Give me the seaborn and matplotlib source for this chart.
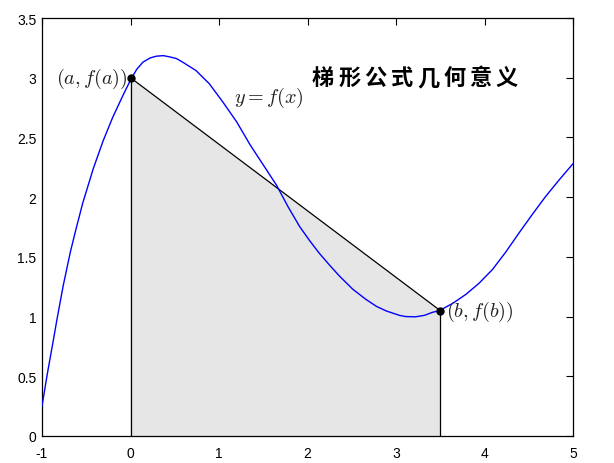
import matplotlib
matplotlib.use("Agg")
import matplotlib.pyplot as plt
import seaborn as sns
import pandas as pd

# ---- data ----
curve_x = [-1.0, -0.94, -0.87, -0.83, -0.76, -0.68, -0.62, -0.54, -0.42, -0.31,
           -0.20, -0.08, 0.0, 0.07, 0.14, 0.22, 0.29, 0.37, 0.44, 0.52, 0.59, 0.74, 0.89, 1.04,
           1.20, 1.35, 1.50, 1.65, 1.78, 1.91, 2.02, 2.13, 2.25, 2.36, 2.51, 2.66, 2.78, 2.89, 3.04,
           3.11, 3.22, 3.32, 3.41, 3.49, 3.64, 3.79, 3.94, 4.09, 4.24, 4.39, 4.54, 4.69, 4.85, 5.0]
curve_y = [0.25, 0.52, 0.81, 0.98, 1.26, 1.54, 1.72, 1.95, 2.24, 2.47,
           2.67, 2.86, 2.98, 3.07, 3.13, 3.165, 3.18, 3.185, 3.175, 3.16, 3.13, 3.06, 2.95, 2.80,
           2.63, 2.44, 2.27, 2.10, 1.92, 1.755, 1.64, 1.533, 1.43, 1.34, 1.23, 1.144, 1.085, 1.047, 1.01,
           1.00, 0.998, 1.01, 1.035, 1.05, 1.11, 1.186, 1.28, 1.394, 1.54, 1.70, 1.855, 2.005, 2.15, 2.28]
a_pt = [0.0, 3.0]
b_pt = [3.5, 1.05]
x_ticks = [-1, 0, 1, 2, 3, 4, 5]
y_ticks = [0, 0.5, 1, 1.5, 2, 2.5, 3, 3.5]
y_ticklabels = ["0", "0.5", "1", "1.5", "2", "2.5", "3", "3.5"]
title_text = "梯形公式几何意义"
label_a = r"$(a,f(a))$"
label_b = r"$(b,f(b))$"
label_f = r"$y=f(x)$"

sns.set_style("white")
plt.rcParams['font.family'] = ['Liberation Sans', 'DejaVu Sans']
plt.rcParams['mathtext.fontset'] = 'cm'

fig = plt.figure(figsize=(6.14, 4.64), dpi=100)
ax = fig.add_axes([42/614, 1-437/464, (573-42)/614, (437-19)/464])

df = pd.DataFrame({"x": curve_x, "y": curve_y})

# trapezoid fill
ax.fill([a_pt[0], a_pt[0], b_pt[0], b_pt[0]], [0, a_pt[1], b_pt[1], 0],
        color=(0.9, 0.9, 0.9), zorder=1, linewidth=0)
ax.plot([a_pt[0], b_pt[0]], [a_pt[1], b_pt[1]], color='black', lw=0.9, zorder=2)
ax.plot([a_pt[0], a_pt[0]], [0, a_pt[1]], color='black', lw=0.9, zorder=2)
ax.plot([b_pt[0], b_pt[0]], [0, b_pt[1]], color='black', lw=0.9, zorder=2)

sns.lineplot(data=df, x="x", y="y", ax=ax, color=(0, 0, 1), lw=1.0,
             sort=False, estimator=None, zorder=3)

ax.plot([a_pt[0], b_pt[0]], [a_pt[1], b_pt[1]], linestyle='none', marker='o',
        color='black', markersize=5, zorder=4)

ax.text(a_pt[0] - 0.03, a_pt[1], label_a, ha='right', va='center', fontsize=14.5, color='#222222')
ax.text(b_pt[0] + 0.07, b_pt[1], label_b, ha='left', va='center', fontsize=14.5, color='#222222')
ax.text(1.17, 2.84, label_f, ha='left', va='center', fontsize=14.5, color='#222222')

# title characters spaced like the reference
char_step = 0.297
for i, ch in enumerate(title_text):
    ax.text(2.175 + i * char_step, 3.0, ch, ha='center', va='center', fontsize=16,
            fontweight='bold', family=['Noto Sans CJK SC', 'DejaVu Sans'], color='black')

ax.set_xlim(-1, 5)
ax.set_ylim(0, 3.5)
ax.set_xticks(x_ticks)
ax.set_xticklabels([str(t) for t in x_ticks])
ax.set_yticks(y_ticks)
ax.set_yticklabels(y_ticklabels)
ax.set_xlabel("")
ax.set_ylabel("")
ax.tick_params(direction='in', length=5, width=0.8, top=True, right=True,
               labelsize=10, colors='black')
ax.tick_params(axis='x', pad=7)
ax.tick_params(axis='y', pad=4)
for s in ax.spines.values():
    s.set_visible(True)
    s.set_color('black')
    s.set_linewidth(0.9)

fig.savefig("out.png", dpi=100, facecolor='white')
